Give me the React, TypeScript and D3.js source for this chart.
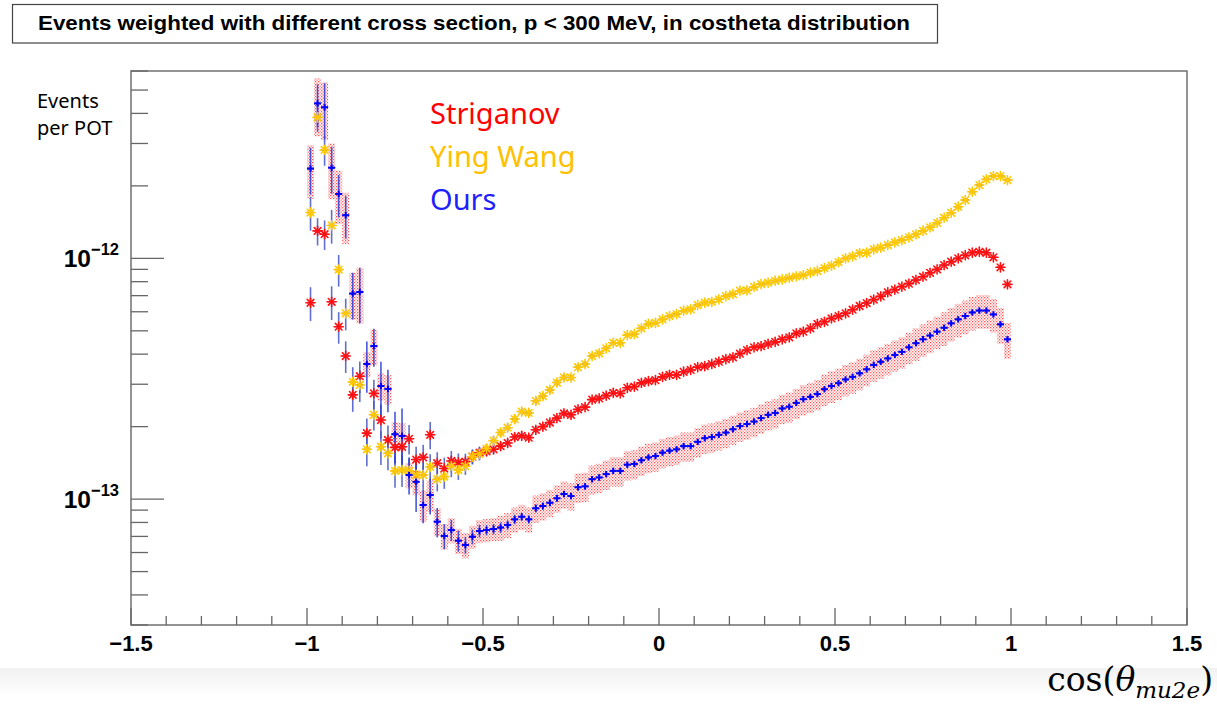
import React from "react";
import * as d3 from "d3";

// values in units of 1e-13 events per POT, bins of 0.02 from -1 to 1
const UNIT = 1e-13;

const ours = [
  23.6, 44.0, 42.4, 23.8, 18.5, 15.1, 7.14, 7.25,
  3.64, 4.32, 2.95, 2.87, 1.86, 1.83, 1.26,
  1.18, 0.945, 1.04, 0.806, 0.703, 0.744, 0.672, 0.645, 0.698, 0.737,
  0.744, 0.751, 0.762, 0.781, 0.824, 0.845, 0.824, 0.916, 0.936, 0.966, 1.008, 1.05, 1.03, 1.12, 1.13,
  1.21, 1.23, 1.27, 1.31, 1.31, 1.39, 1.40, 1.45, 1.49, 1.51, 1.56, 1.59, 1.61, 1.66, 1.66, 1.73, 1.79, 1.81, 1.85, 1.89,
  1.95, 2.01, 2.05, 2.10, 2.17, 2.24, 2.28, 2.38, 2.42, 2.51, 2.60, 2.66, 2.73, 2.86, 2.95, 3.03, 3.14, 3.22, 3.33, 3.46,
  3.61, 3.72, 3.84, 3.97, 4.09, 4.27, 4.44, 4.61, 4.78, 4.96, 5.15, 5.37, 5.58, 5.76, 5.96, 6.07, 6.07, 5.85, 5.32, 4.61,
];

const striganov = [
  6.54, 13.0, 12.6, 6.60, 5.20, 3.93, 2.71, 3.24,
  1.88, 2.75, 2.13, 1.76, 1.64, 1.65, 1.78,
  1.46, 1.49, 1.85, 1.41, 1.34, 1.44, 1.42, 1.43, 1.50, 1.56,
  1.58, 1.61, 1.66, 1.71, 1.81, 1.83, 1.80, 1.94, 2.00, 2.08, 2.17, 2.27, 2.24, 2.36, 2.41,
  2.59, 2.62, 2.69, 2.76, 2.75, 2.90, 2.93, 3.04, 3.09, 3.12, 3.22, 3.28, 3.28, 3.38, 3.44, 3.53, 3.57, 3.64, 3.72, 3.81,
  3.88, 4.02, 4.16, 4.27, 4.32, 4.41, 4.50, 4.61, 4.70, 4.88, 4.96, 5.12, 5.34, 5.45, 5.63, 5.76, 5.91, 6.12, 6.34, 6.52,
  6.74, 6.95, 7.23, 7.41, 7.63, 7.85, 8.13, 8.39, 8.71, 9.00, 9.38, 9.68, 10.0, 10.3, 10.55, 10.65, 10.55, 10.1, 9.18, 7.80,
];

const yingWang = [
  15.5, 38.5, 28.2, 13.7, 8.98, 5.91, 3.07, 2.98,
  1.61, 2.24, 1.65, 1.55, 1.31, 1.32, 1.31,
  1.26, 1.26, 1.36, 1.21, 1.24, 1.37, 1.32, 1.37, 1.50, 1.54,
  1.62, 1.75, 1.89, 1.98, 2.15, 2.31, 2.28, 2.56, 2.68, 2.84, 3.05, 3.20, 3.20, 3.53, 3.64,
  3.93, 4.03, 4.23, 4.46, 4.46, 4.80, 4.85, 5.12, 5.34, 5.40, 5.58, 5.76, 5.87, 6.06, 6.14, 6.40, 6.54, 6.60, 6.76, 6.97,
  7.11, 7.34, 7.36, 7.62, 7.82, 7.92, 8.07, 8.17, 8.29, 8.41, 8.52, 8.73, 8.86, 9.11, 9.33, 9.65, 10.0, 10.2, 10.5, 10.55,
  10.9, 11.07, 11.36, 11.65, 11.91, 12.23, 12.58, 13.02, 13.45, 14.05, 14.75, 15.46, 16.38, 17.46, 18.91, 20.16, 21.29, 21.97, 21.97, 21.14,
];

// relative statistical errors (vertical bars)
const oursStat = [
  0.22, 0.2, 0.26, 0.22, 0.2, 0.2, 0.22, 0.26,
  0.24, 0.18, 0.26, 0.2, 0.24, 0.3, 0.17,
  0.25, 0.16, 0.17, 0.14, 0.12, 0.1, 0.1, 0.08, 0.07, 0.06,
  0.05, 0.05, 0.05, 0.045, 0.045, 0.04, 0.04, 0.04, 0.035, 0.035, 0.035, 0.03, 0.03, 0.03, 0.03,
  0.028, 0.028, 0.027, 0.027, 0.026, 0.026, 0.025, 0.025, 0.024, 0.024, 0.024, 0.023, 0.023, 0.022, 0.022, 0.022, 0.021, 0.021, 0.021, 0.02,
  0.02, 0.02, 0.02, 0.019, 0.019, 0.019, 0.019, 0.018, 0.018, 0.018, 0.018, 0.018, 0.017, 0.017, 0.017, 0.017, 0.017, 0.017, 0.016, 0.016,
  0.016, 0.016, 0.016, 0.016, 0.016, 0.016, 0.016, 0.016, 0.016, 0.016, 0.016, 0.016, 0.016, 0.016, 0.016, 0.016, 0.017, 0.018, 0.02, 0.025,
];

const othersStat = [
  0.16, 0.13, 0.14, 0.16, 0.15, 0.15, 0.15, 0.15,
  0.15, 0.14, 0.16, 0.15, 0.15, 0.15, 0.14,
  0.13, 0.13, 0.13, 0.11, 0.11, 0.1, 0.09, 0.08, 0.07, 0.06,
  0.045, 0.045, 0.04, 0.04, 0.04, 0.035, 0.035, 0.035, 0.03, 0.03, 0.03, 0.028, 0.027, 0.026, 0.025,
  0.024, 0.024, 0.023, 0.023, 0.022, 0.022, 0.021, 0.021, 0.02, 0.02, 0.02, 0.019, 0.019, 0.018, 0.018, 0.018, 0.017, 0.017, 0.017, 0.016,
  0.016, 0.016, 0.016, 0.015, 0.015, 0.015, 0.015, 0.015, 0.014, 0.014, 0.014, 0.014, 0.014, 0.014, 0.013, 0.013, 0.013, 0.013, 0.013, 0.013,
  0.013, 0.013, 0.013, 0.013, 0.013, 0.013, 0.013, 0.013, 0.013, 0.013, 0.013, 0.013, 0.013, 0.013, 0.013, 0.013, 0.014, 0.015, 0.016, 0.02,
];

// relative systematic band on "Ours" (hatched boxes)
const oursSys = [
  0.25, 0.27, 0.27, 0.26, 0.25, 0.24, 0.22, 0.26,
  0.12, 0.17, 0.13, 0.14, 0.12, 0.13, 0.12,
  0.12, 0.15, 0.15, 0.13, 0.12, 0.12, 0.12, 0.12, 0.11, 0.11,
  0.11, 0.11, 0.12, 0.12, 0.12, 0.12, 0.12, 0.13, 0.13, 0.13, 0.13, 0.13, 0.13, 0.14, 0.14,
  0.14, 0.14, 0.14, 0.14, 0.14, 0.14, 0.14, 0.14, 0.14, 0.14, 0.14, 0.14, 0.14, 0.14, 0.14, 0.14, 0.14, 0.14, 0.14, 0.14,
  0.14, 0.14, 0.14, 0.14, 0.14, 0.14, 0.14, 0.14, 0.145, 0.145, 0.145, 0.145, 0.145, 0.15, 0.15, 0.15, 0.15, 0.15, 0.15, 0.15,
  0.15, 0.15, 0.15, 0.15, 0.15, 0.15, 0.155, 0.155, 0.155, 0.155, 0.16, 0.16, 0.16, 0.16, 0.16, 0.16, 0.16, 0.16, 0.17, 0.17,
];

const binWidth = 0.02;
const binCenters = d3.range(ours.length).map((i) => -1 + binWidth / 2 + i * binWidth);

const xTickLabels = [-1.5, -1, -0.5, 0, 0.5, 1, 1.5];
const yMajorTicks = [1e-13, 1e-12];
const legendItems = [
  { label: "Striganov", color: "#ff0000" },
  { label: "Ying Wang", color: "#ffc000" },
  { label: "Ours", color: "#1f1fff" },
];

const W = 1217;
const H = 704;
const frame = { left: 131, right: 1187, top: 71, bottom: 625 };

const x = d3.scaleLinear().domain([-1.5, 1.5]).range([frame.left, frame.right]);
const y = d3.scaleLog().domain([3e-14, 6e-12]).range([frame.bottom, frame.top]);

const errColor = "#4656c8";
const axisColor = "#666";
const tickFont = "'Liberation Sans', Arial, Helvetica, sans-serif";

function Star({ cx, cy, color }: { cx: number; cy: number; color: string }) {
  const r = 4.6;
  const d = r * 0.72;
  return (
    <g stroke={color} strokeWidth={1.6} strokeLinecap="round">
      <line x1={cx - r} y1={cy} x2={cx + r} y2={cy} />
      <line x1={cx} y1={cy - r} x2={cx} y2={cy + r} />
      <line x1={cx - d} y1={cy - d} x2={cx + d} y2={cy + d} />
      <line x1={cx - d} y1={cy + d} x2={cx + d} y2={cy - d} />
    </g>
  );
}

function ErrorBars({ values, rel, color }: { values: number[]; rel: number[]; color: string }) {
  return (
    <g stroke={color} strokeWidth={1.6} opacity={0.85}>
      {values.map((v, i) => {
        const val = v * UNIT;
        const cx = x(binCenters[i]);
        const hi = y(val * (1 + rel[i]));
        const lo = y(Math.max(val * (1 - rel[i]), 1e-15));
        return (
          <g key={i}>
            <line x1={cx} x2={cx} y1={hi} y2={Math.min(lo, frame.bottom)} />
            <line x1={x(binCenters[i] - binWidth / 2)} x2={x(binCenters[i] + binWidth / 2)} y1={y(val)} y2={y(val)} />
          </g>
        );
      })}
    </g>
  );
}

export default function App() {
  const minorY: number[] = [];
  for (const p of [1e-14, 1e-13, 1e-12]) {
    for (let k = 1; k <= 9; k++) {
      const v = k * p;
      if (v >= 3e-14 && v <= 6.01e-12) minorY.push(v);
    }
  }
  const minorX = d3.range(-15, 16).map((k) => k / 10);

  return (
    <svg
      width={W}
      height={H}
      viewBox={`0 0 ${W} ${H}`}
      style={{ position: "absolute", left: 0, top: 0, display: "block", background: "#fff" }}
    >
      <defs>
        <pattern id="hatch" width="3" height="3" patternUnits="userSpaceOnUse">
          <rect x="0" y="0" width="1.3" height="1.3" fill="#ff5050" />
          <rect x="1.5" y="1.5" width="1.3" height="1.3" fill="#ff7474" />
        </pattern>
        <linearGradient id="band" x1="0" y1="0" x2="0" y2="1">
          <stop offset="0" stopColor="#f1f1f1" />
          <stop offset="1" stopColor="#ffffff" />
        </linearGradient>
      </defs>

      <rect x={0} y={0} width={W} height={H} fill="#fff" />
      <rect x={0} y={668} width={W} height={28} fill="url(#band)" />

      {/* title */}
      <rect x={12.5} y={4.5} width={925} height={38.5} fill="#fff" stroke="#444" strokeWidth={1.2} />
      <text
        x={38}
        y={29.5}
        fontFamily={tickFont}
        fontWeight="bold"
        fontSize={21}
        textLength={872}
        lengthAdjust="spacingAndGlyphs"
        fill="#000"
      >
        Events weighted with different cross section, p &lt; 300 MeV, in costheta distribution
      </text>

      {/* frame */}
      <rect
        x={frame.left}
        y={frame.top}
        width={frame.right - frame.left}
        height={frame.bottom - frame.top}
        fill="none"
        stroke={axisColor}
        strokeWidth={1.4}
      />

      {/* y ticks */}
      <g stroke={axisColor} strokeWidth={1.3}>
        {minorY.map((v, i) => {
          const major = yMajorTicks.some((m) => Math.abs(m - v) / m < 1e-6);
          return <line key={i} x1={frame.left} x2={frame.left + (major ? 33 : 17)} y1={y(v)} y2={y(v)} />;
        })}
      </g>
      {yMajorTicks.map((v) => {
        const exp = Math.round(Math.log10(v));
        return (
          <text key={v} x={119} y={y(v) + 9} textAnchor="end" fontFamily={tickFont} fontWeight="bold" fill="#000">
            <tspan fontSize={24.5}>10</tspan>
            <tspan fontSize={16.5} dy={-12}>{`\u2212${Math.abs(exp)}`}</tspan>
          </text>
        );
      })}

      {/* x ticks */}
      <g stroke={axisColor} strokeWidth={1.3}>
        {minorX.map((v, i) => {
          const major = Math.abs(v * 2 - Math.round(v * 2)) < 1e-6;
          return <line key={i} x1={x(v)} x2={x(v)} y1={frame.bottom} y2={frame.bottom - (major ? 17 : 9)} />;
        })}
      </g>
      {xTickLabels.map((v) => (
        <text
          key={v}
          x={x(v)}
          y={651}
          textAnchor="middle"
          fontFamily={tickFont}
          fontWeight="bold"
          fontSize={22}
          fill="#000"
        >
          {d3.format("~g")(v)}
        </text>
      ))}

      {/* y title */}
      <text x={37} y={108} fontFamily="'Noto Sans', sans-serif" fontSize={20} fill="#000">Events</text>
      <text x={37} y={135} fontFamily="'Noto Sans', sans-serif" fontSize={20} fill="#000">per POT</text>

      {/* x title */}
      <text x={1213} y={691} textAnchor="end" fontFamily="'DejaVu Serif', serif" fontSize={33} fill="#000">
        cos(<tspan fontStyle="italic">θ</tspan>
        <tspan fontStyle="italic" fontSize={23} dy={7}>mu2e</tspan>
        <tspan dy={-7}>)</tspan>
      </text>

      {/* Ours systematic band */}
      <g fill="url(#hatch)">
        {ours.map((v, i) => {
          const val = v * UNIT;
          const top = y(val * (1 + oursSys[i]));
          const bot = y(val * (1 - oursSys[i]));
          return (
            <rect
              key={i}
              x={x(binCenters[i] - binWidth / 2)}
              width={x(binWidth) - x(0)}
              y={top}
              height={bot - top}
            />
          );
        })}
      </g>

      {/* error bars */}
      <ErrorBars values={striganov} rel={othersStat} color={errColor} />
      <ErrorBars values={yingWang} rel={othersStat} color={errColor} />
      <ErrorBars values={ours} rel={oursStat} color="#2a3ad8" />

      {/* markers */}
      {striganov.map((v, i) => (
        <Star key={`s${i}`} cx={x(binCenters[i])} cy={y(v * UNIT)} color="#ff1010" />
      ))}
      {yingWang.map((v, i) => (
        <Star key={`w${i}`} cx={x(binCenters[i])} cy={y(v * UNIT)} color="#ffc800" />
      ))}
      <g stroke="#0000ff" strokeWidth={2}>
        {ours.map((v, i) => {
          const cx = x(binCenters[i]);
          const cy = y(v * UNIT);
          return (
            <g key={`o${i}`}>
              <line x1={cx - 3.5} x2={cx + 3.5} y1={cy} y2={cy} />
              <line x1={cx} x2={cx} y1={cy - 3.2} y2={cy + 3.2} />
            </g>
          );
        })}
      </g>

      {/* legend */}
      {legendItems.map((d, i) => (
        <text
          key={d.label}
          x={430}
          y={124 + i * 43}
          fontFamily="'Noto Sans', sans-serif"
          fontSize={29}
          fill={d.color}
        >
          {d.label}
        </text>
      ))}
    </svg>
  );
}
